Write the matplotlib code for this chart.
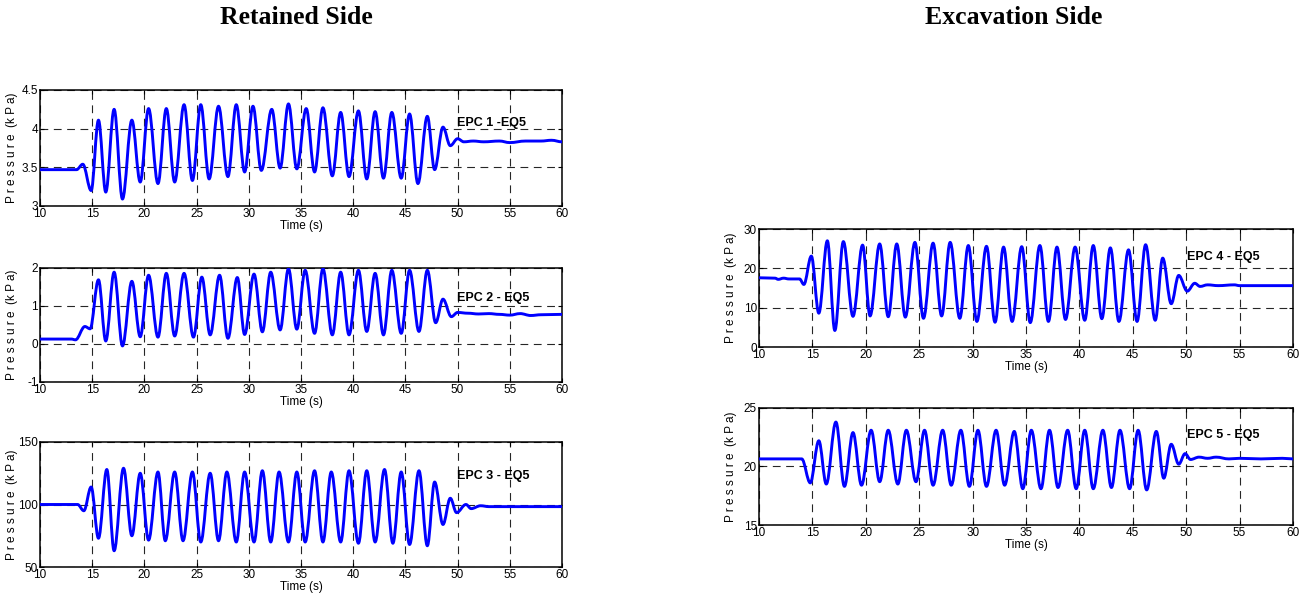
import matplotlib
matplotlib.use('Agg')
import matplotlib.pyplot as plt
from matplotlib.path import Path
from matplotlib.patches import PathPatch

W, H = 1308, 607

# ---- EPC 1 (retained side) ----  peaks / troughs
t1 = [10, 13.5, 14.1, 14.9, 15.6, 16.3, 17.1, 17.9, 18.8, 19.6, 20.4, 21.3, 22.1, 22.9,
      23.8, 24.6, 25.4, 26.2, 27.1, 28.0, 28.8, 29.6, 30.4, 31.2, 32.2, 33.0, 33.8, 34.6,
      35.5, 36.3, 37.1, 38.0, 38.8, 39.6, 40.5, 41.3, 42.1, 42.9, 43.7, 44.6, 45.4, 46.2,
      47.1, 47.8, 48.6, 49.3, 50.0, 50.6, 51.5, 52.5, 54, 55, 56.5, 58, 59, 60]
p1 = [3.47, 3.47, 3.54, 3.20, 4.11, 3.18, 4.25, 3.09, 4.11, 3.31, 4.26, 3.29, 4.26, 3.31,
      4.31, 3.33, 4.31, 3.35, 4.29, 3.38, 4.31, 3.44, 4.29, 3.46, 4.25, 3.49, 4.32, 3.48,
      4.26, 3.44, 4.27, 3.39, 4.21, 3.38, 4.23, 3.35, 4.22, 3.36, 4.21, 3.36, 4.19, 3.29,
      4.16, 3.47, 4.02, 3.78, 3.87, 3.83, 3.84, 3.83, 3.84, 3.82, 3.84, 3.84, 3.85, 3.83]

# ---- EPC 2 ----
t2 = [10, 13.0, 13.4, 14.3, 14.8, 15.6, 16.3, 17.1, 17.9, 18.8, 19.6, 20.4, 21.3, 22.1,
      22.9, 23.8, 24.7, 25.5, 26.3, 27.2, 28.0, 28.9, 29.6, 30.5, 31.3, 32.1, 33.0, 33.8,
      34.6, 35.4, 36.3, 37.1, 38.0, 38.8, 39.6, 40.5, 41.3, 42.1, 42.9, 43.7, 44.6, 45.4,
      46.3, 47.1, 47.9, 48.6, 49.4, 50.0, 51, 52, 53, 54, 55, 56, 57, 58, 60]
p2 = [0.13, 0.13, 0.11, 0.46, 0.40, 1.69, 0.08, 1.89, -0.05, 1.65, 0.19, 1.81, 0.18, 1.86,
      0.21, 1.86, 0.18, 1.76, 0.24, 1.81, 0.15, 1.75, 0.25, 1.84, 0.32, 1.89, 0.37, 1.98,
      0.39, 1.94, 0.28, 1.98, 0.24, 1.89, 0.24, 1.94, 0.33, 1.86, 0.24, 1.94, 0.28, 1.94,
      0.33, 1.94, 0.56, 1.18, 0.72, 0.83, 0.81, 0.79, 0.80, 0.78, 0.76, 0.80, 0.75, 0.77, 0.78]

# ---- EPC 3 ----
t3 = [10, 13.6, 14.2, 14.9, 15.6, 16.4, 17.1, 18.0, 18.8, 19.6, 20.4, 21.3, 22.0, 22.9,
      23.7, 24.6, 25.4, 26.3, 27.1, 27.9, 28.8, 29.6, 30.5, 31.3, 32.1, 32.9, 33.8, 34.6,
      35.4, 36.3, 37.1, 37.9, 38.8, 39.6, 40.5, 41.3, 42.1, 43.0, 43.8, 44.6, 45.4, 46.3,
      47.1, 47.8, 48.6, 49.3, 49.9, 50.8, 51.3, 52.2, 53, 60]
p3 = [100, 100, 95, 114, 73, 128, 63, 129, 75, 125, 71.5, 126, 71, 126,
      71, 126, 70, 125, 71, 126, 70, 126, 70, 127, 70, 126, 70, 126,
      70, 127, 70, 126, 70, 127, 69, 127, 70, 128, 69, 126, 68, 127,
      67, 118, 84, 105, 93.5, 100, 96.7, 99, 98.3, 98.3]

# ---- EPC 4 (excavation side) ----
t4 = [10, 11.5, 11.8, 12.3, 12.8, 13.8, 14.2, 14.9, 15.6, 16.4, 17.1, 17.9, 18.8, 19.7,
      20.4, 21.3, 22.1, 22.9, 23.7, 24.6, 25.4, 26.3, 27.1, 27.9, 28.8, 29.6, 30.4, 31.3,
      32.1, 32.9, 33.7, 34.6, 35.4, 36.3, 37.1, 37.9, 38.7, 39.6, 40.5, 41.3, 42.1, 42.9,
      43.7, 44.6, 45.4, 46.2, 47.1, 47.8, 48.6, 49.3, 50.1, 50.8, 51.3, 52.0, 53.0, 54.5, 55, 60]
p4 = [17.6, 17.5, 17.2, 17.5, 17.3, 17.3, 15.9, 23.1, 8.6, 27.0, 4.2, 26.8, 7.8, 25.9,
      7.9, 26.2, 7.7, 26.2, 7.6, 26.6, 7.3, 26.4, 7.9, 26.6, 7.3, 25.8, 6.5, 25.6,
      6.3, 25.4, 6.5, 25.5, 6.2, 25.8, 6.5, 25.4, 7.0, 25.4, 6.8, 25.8, 7.2, 25.2,
      6.5, 24.7, 6.5, 26.0, 6.8, 22.6, 11.0, 18.2, 14.2, 16.2, 15.4, 15.8, 15.6, 15.8, 15.6, 15.6]

# ---- EPC 5 ----
t5 = [10, 14.0, 14.8, 15.6, 16.3, 17.2, 18.0, 18.8, 19.6, 20.5, 21.3, 22.1, 23.0, 23.8,
      24.7, 25.5, 26.3, 27.2, 28.0, 28.9, 29.7, 30.5, 31.3, 32.2, 33.0, 33.9, 34.7, 35.5,
      36.4, 37.2, 38.0, 38.9, 39.7, 40.5, 41.3, 42.2, 43.0, 43.8, 44.7, 45.5, 46.3, 47.2,
      47.9, 48.6, 49.3, 49.9, 50.4, 51.2, 52, 52.8, 54, 55, 57, 59, 60]
p5 = [20.65, 20.65, 18.6, 22.2, 18.5, 23.8, 18.3, 22.9, 18.4, 23.1, 18.7, 23.1, 18.5, 23.1,
      18.7, 23.1, 18.4, 23.1, 18.4, 23.1, 18.3, 23.1, 18.3, 23.1, 18.4, 23.0, 18.1, 23.1,
      18.1, 23.1, 18.2, 23.1, 18.1, 23.1, 18.1, 23.1, 18.2, 23.1, 18.1, 23.1, 18.0, 23.0,
      19.0, 21.9, 20.2, 21.1, 20.6, 20.8, 20.7, 20.8, 20.65, 20.7, 20.65, 20.7, 20.65]

xticks = [10, 15, 20, 25, 30, 35, 40, 45, 50, 55, 60]

panels = [
    # (left, top, right, bottom) in pixels, t, p, ylim, yticks, yticklabels, label, (tx, ty)
    ((40, 90, 562, 206), t1, p1, (3, 4.5), [3, 3.5, 4, 4.5], ['3', '3.5', '4', '4.5'], 'EPC 1 -EQ5', (49.9, 4.07)),
    ((40, 268, 562, 382), t2, p2, (-1, 2), [-1, 0, 1, 2], ['-1', '0', '1', '2'], 'EPC 2 - EQ5', (49.9, 1.2)),
    ((40, 442, 562, 567), t3, p3, (50, 150), [50, 100, 150], ['50', '100', '150'], 'EPC 3 - EQ5', (49.9, 123)),
    ((759, 229, 1293, 347), t4, p4, (0, 30), [0, 10, 20, 30], ['0', '10', '20', '30'], 'EPC 4 - EQ5', (50.1, 22.8)),
    ((759, 408, 1293, 525), t5, p5, (15, 25), [15, 20, 25], ['15', '20', '25'], 'EPC 5 - EQ5', (50.1, 22.7)),
]


def smooth_line(t, p):
    # curve through the read points with flat tangents at each one (peaks/troughs)
    verts = [(t[0], p[0])]
    codes = [Path.MOVETO]
    for i in range(1, len(t)):
        d = (t[i] - t[i - 1]) * 0.36
        verts += [(t[i - 1] + d, p[i - 1]), (t[i] - d, p[i]), (t[i], p[i])]
        codes += [Path.CURVE4] * 3
    return Path(verts, codes)


plt.rcParams['font.family'] = ['Liberation Sans', 'DejaVu Sans']

fig = plt.figure(figsize=(W / 100, H / 100), dpi=100)

for (l, t, r, b), tt, pp, ylim, yt, ytl, name, (tx, ty) in panels:
    ax = fig.add_axes([l / W, 1 - b / H, (r - l) / W, (b - t) / H])
    ax.add_patch(PathPatch(smooth_line(tt, pp), fill=False, edgecolor='#0000ff',
                           lw=2.1, joinstyle='round', capstyle='round', zorder=3))
    ax.set_xlim(10, 60)
    ax.set_ylim(*ylim)
    ax.set_xticks(xticks)
    ax.set_yticks(yt)
    ax.set_yticklabels(ytl)
    ax.grid(True, color='k', lw=0.8, ls=(0, (7, 5)), alpha=0.85)
    ax.tick_params(direction='in', length=3, width=0.8, labelsize=8.5, pad=1.5,
                   top=True, right=True)
    for s in ax.spines.values():
        s.set_linewidth(1.1)
    ax.set_xlabel('Time (s)', fontsize=8.5, labelpad=0)
    ax.set_ylabel('P r e s s u r e  (k P a)', fontsize=8.5)
    ax.yaxis.set_label_coords(-22 / (r - l), 0.5)
    ax.text(tx, ty, name, fontsize=9, fontweight='bold', ha='left', va='center', zorder=4)

fig.text(296 / W, 1 - 17 / H, 'Retained Side', fontsize=18.5, fontweight='bold',
         family='Liberation Serif', ha='center', va='center')
fig.text(1014 / W, 1 - 17 / H, 'Excavation Side', fontsize=18.5, fontweight='bold',
         family='Liberation Serif', ha='center', va='center')

fig.savefig('out.png', dpi=100)
